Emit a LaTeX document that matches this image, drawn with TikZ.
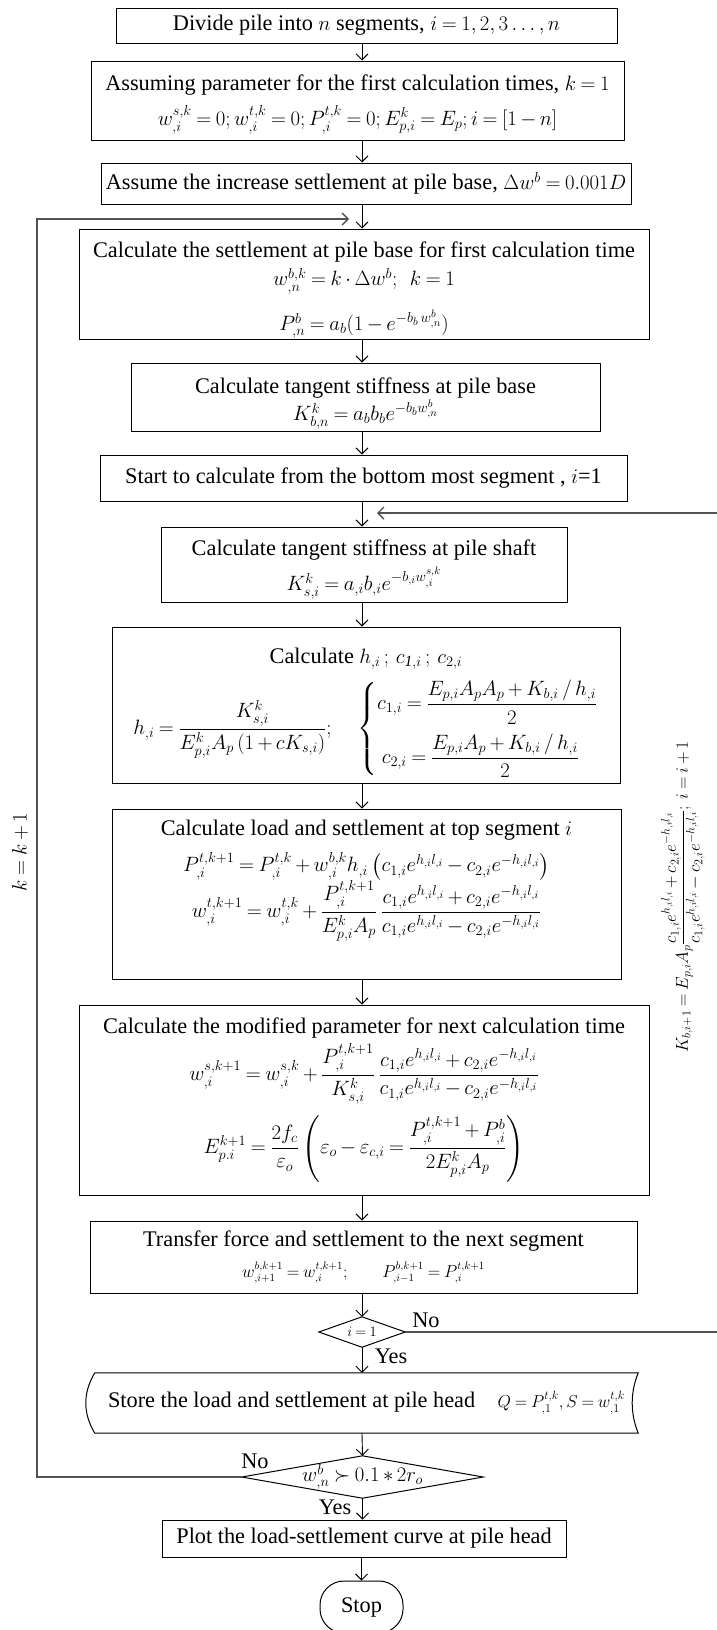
\documentclass[tikz,border=0pt]{standalone}
\usepackage{amsmath}
\usepackage{amssymb}
\usepackage{fontspec}
\setmainfont{Liberation Serif}
\usetikzlibrary{arrows.meta}
\begin{document}
\thickmuskip=4mu plus 2mu
\medmuskip=3mu plus 1mu minus 2mu
\begin{tikzpicture}[x=1pt,y=-1pt,
  every node/.style={font=\fontsize{22.3}{27}\selectfont, inner sep=0pt},
  pbox/.style={draw, line width=1pt, align=center},
  tip/.style={-{Straight Barb[length=6pt,width=12pt]}},
  arr/.style={tip, line width=0.9pt},
  loopline/.style={line width=1.4pt, draw=black!68}]
\useasboundingbox (0,0) rectangle (716,1630);
\coordinate (ax) at (362,0);

\node[pbox, minimum width=501pt, minimum height=35pt] (b1) at (366.5,25.5)
  {Divide pile into $n$ segments, $i=1,2,3\ldots,n$};

\node[pbox, minimum width=533pt, minimum height=79pt] (b2) at (357.5,100.5)
  {\rule{0pt}{23.5pt}Assuming parameter for the first calculation times, $k=1$\\[8pt]
   $w^{s,k}_{,i}=0;w^{t,k}_{,i}=0;P^{t,k}_{,i}=0;E^{k}_{p,i}=E_{p};i=[1-n]$};

\node[pbox, minimum width=530pt, minimum height=41pt] (b3) at (366,183.5)
  {Assume the increase settlement at pile base, $\Delta w^{b}=0.001D$};

\node[pbox, minimum width=570pt, minimum height=110pt] (b4) at (364,284)
  {\rule{0pt}{28.5pt}Calculate the settlement at pile base for first calculation time\\[1pt]
   $w^{b,k}_{,n}=k\cdot\Delta w^{b};\;\; k=1$\\[15pt]
   $P^{b}_{,n}=a_{b}(1-e^{-b_{b}\,w^{b}_{,n}})$};

\node[pbox, minimum width=469pt, minimum height=68pt] (b5) at (365.5,397)
  {\rule{0pt}{29.5pt}Calculate tangent stiffness at pile base\\[0pt]
   $K^{k}_{b,n}=a_{b}b_{b}e^{-b_{b}w^{b}_{,n}}$};

\node[pbox, minimum width=527pt, minimum height=46pt] (b6) at (363.5,478)
  {Start to calculate from the bottom most segment , $i$=1};

\node[pbox, minimum width=406pt, minimum height=75pt] (b7) at (364,564.5)
  {\rule{0pt}{25pt}Calculate tangent stiffness at pile shaft\\[6pt]
   $K^{k}_{s,i}=a_{,i}b_{,i}e^{-b_{,i}w^{s,k}_{,i}}$};

\node[pbox, minimum width=508pt, minimum height=156pt] (b8) at (366,705)
  {\rule{0pt}{31.5pt}Calculate $h_{,i}\,;\,c_{\mathit{1},i}\,;\,c_{2,i}$\\[9.5pt]
   $\displaystyle h_{,i}=\frac{K^{k}_{s,i}}{E^{k}_{p,i}A_{p}\left(1+cK_{s,i}\right)};\quad
   \left\{\begin{array}{@{}l@{}}
   \displaystyle c_{1,i}=\frac{E_{p,i}A_{p}A_{p}+K_{b,i}\,/\,h_{,i}}{2}\\[16pt]
   \displaystyle \;c_{2,i}=\frac{E_{p,i}A_{p}+K_{b,i}\,/\,h_{,i}}{2}
   \end{array}\right.$};

\node[pbox, minimum width=509pt, minimum height=170pt] (b9) at (366.5,894)
  {Calculate load and settlement at top segment $i$\\[9pt]
   $P^{t,k+1}_{,i}=P^{t,k}_{,i}+w^{b,k}_{,i}h_{,i}\left(c_{1,i}e^{h_{,i}l_{,i}}-c_{2,i}e^{-h_{,i}l_{,i}}\right)$\\[-1pt]
   $\displaystyle w^{t,k+1}_{,i}=w^{t,k}_{,i}+\frac{P^{t,k+1}_{,i}}{E^{k}_{p,i}A_{p}}\,
   \frac{c_{1,i}e^{h_{,i}l_{,i}}+c_{2,i}e^{-h_{,i}l_{,i}}}{c_{1,i}e^{h_{,i}l_{,i}}-c_{2,i}e^{-h_{,i}l_{,i}}}$\rule[-50pt]{0pt}{0pt}};

\node[pbox, minimum width=570pt, minimum height=190pt] (b10) at (364,1100)
  {Calculate the modified parameter for next calculation time\\[4pt]
   $\displaystyle w^{s,k+1}_{,i}=w^{s,k}_{,i}+\frac{P^{t,k+1}_{,i}}{K^{k}_{s,i}}\,
   \frac{c_{1,i}e^{h_{,i}l_{,i}}+c_{2,i}e^{-h_{,i}l_{,i}}}{c_{1,i}e^{h_{,i}l_{,i}}-c_{2,i}e^{-h_{,i}l_{,i}}}$\\[10pt]
   $\displaystyle E^{k+1}_{p.i}=\frac{2f_{c}}{\varepsilon_{o}}\left(\varepsilon_{o}-\varepsilon_{c,i}=
   \frac{P^{t,k+1}_{,i}+P^{b}_{,i}}{2E^{k}_{p,i}A_{p}}\right)$};

\node[pbox, minimum width=547pt, minimum height=72pt] (b11) at (363.5,1257)
  {Transfer force and settlement to the next segment\\[4pt]
   {\fontsize{16}{19}\selectfont $w^{b,k+1}_{,i+1}=w^{t,k+1}_{,i};\qquad P^{b,k+1}_{,i-1}=P^{t,k+1}_{,i}$}};

\node[minimum width=86pt, minimum height=30pt] (d1) at (362,1332)
  {\fontsize{15}{18}\selectfont $i=1$};
\draw[line width=1pt] (d1.north) -- (d1.east) -- (d1.south) -- (d1.west) -- cycle;

\node[minimum width=543pt, minimum height=60pt] (st) at (366.5,1403)
  {Store the load and settlement at pile head\quad{\fontsize{18}{22}\selectfont $Q=P^{t,k}_{,1},S=w^{t,k}_{,1}$}};
\draw[line width=1pt] (st.north west) .. controls +(-12,20) and +(-12,-20) .. (st.south west)
  -- (st.south east) .. controls +(-8,-20) and +(-8,20) .. (st.north east) -- cycle;

\node[minimum width=241pt, minimum height=42pt] (d2) at (362.5,1477)
  {\fontsize{20}{24}\selectfont $w^{b}_{,n}\succ 0.1*2r_{o}$};
\draw[line width=1pt] (d2.north) -- (d2.east) -- (d2.south) -- (d2.west) -- cycle;

\node[pbox, minimum width=404pt, minimum height=37pt] (pl) at (364,1538.5)
  {Plot the load-settlement curve at pile head};

\node[draw, line width=1pt, rounded corners=24pt, minimum width=83pt, minimum height=52pt] (stop) at (361.5,1607) {Stop};

% main arrows
\draw[arr] (b1.south -| ax) -- (b2.north -| ax);
\draw[arr] (b2.south -| ax) -- (b3.north -| ax);
\draw[arr] (b3.south -| ax) -- (b4.north -| ax);
\draw[arr] (b4.south -| ax) -- (b5.north -| ax);
\draw[arr] (b5.south -| ax) -- (b6.north -| ax);
\draw[arr] (b6.south -| ax) -- (b7.north -| ax);
\draw[arr] (b7.south -| ax) -- (b8.north -| ax);
\draw[arr] (b8.south -| ax) -- (b9.north -| ax);
\draw[arr] (b9.south -| ax) -- (b10.north -| ax);
\draw[arr] (b10.south -| ax) -- (b11.north -| ax);
\draw[arr] (b11.south -| ax) -- (d1.north);
\draw[arr] (d1.south) -- (st.north -| d1.south);
\draw[arr] (st.south -| d1.south) -- (d2.north);
\draw[arr] (d2.south) -- (pl.north -| d2.south);
\draw[arr] (pl.south -| stop.north) -- (stop.north);

% loops
\coordinate (L1) at (37,219);
\coordinate (L2) at (349,219);
\draw[loopline, tip] (d2.west) -| (L1) -- (L2);
\coordinate (R1) at (717.5,513);
\coordinate (R2) at (377,513);
\draw[loopline, tip] (d1.east) -| (R1) -- (R2);

% labels
\node (no1) at (426,1320) {No};
\node (yes1) at (391,1356) {Yes};
\node (no2) at (255,1461) {No};
\node (yes2) at (335,1507) {Yes};
\node[rotate=90] (kk) at (20,852) {$k=k+1$};
\node[rotate=90, font=\fontsize{18}{22}\selectfont] (kb) at (683,897)
  {$K_{b,i+1}=E_{p,i}A_{p}\dfrac{c_{1,i}e^{h_{,i}l_{,i}}+c_{2,i}e^{-h_{,i}l_{,i}}}{c_{1,i}e^{h_{,i}l_{,i}}-c_{2,i}e^{-h_{,i}l_{,i}}};\; i=i+1$};
\end{tikzpicture}
\end{document}
